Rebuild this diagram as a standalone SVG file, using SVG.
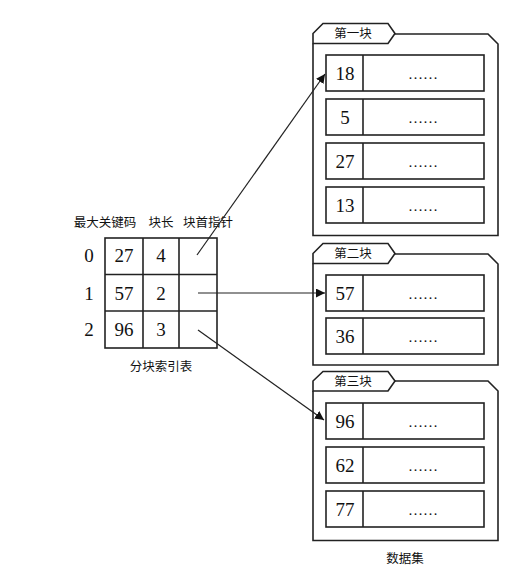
<svg xmlns="http://www.w3.org/2000/svg" width="510" height="577" viewBox="0 0 510 577">
<defs>
<style>
.ln{fill:none;stroke:#222;stroke-width:1.6}
.cell{fill:#fff;stroke:#222;stroke-width:1.6}
.num{font-family:"Liberation Serif","Times New Roman",serif;font-size:19px;fill:#111;text-anchor:middle}
.dots{font-family:"Liberation Serif","Times New Roman",serif;font-size:15px;fill:#111;text-anchor:middle}
.cn{font-family:"Noto Sans CJK SC","Noto Sans",sans-serif;font-size:12.5px;fill:#111;text-anchor:middle}
.con{fill:none;stroke:#222;stroke-width:1.2}
</style>
<marker id="ah" viewBox="0 0 10 10" refX="10" refY="5" markerWidth="9" markerHeight="9" markerUnits="userSpaceOnUse" orient="auto">
<path d="M0,0 L10,5 L0,10 z" fill="#111"/>
</marker>
</defs>
<rect width="510" height="577" fill="#fff"/>

<g id="index-table">
<text class="cn" x="105" y="227">最大关键码</text>
<text class="cn" x="161" y="227">块长</text>
<text class="cn" x="208" y="227">块首指针</text>
<rect class="cell" x="105" y="238" width="112" height="110"/>
<line class="ln" x1="143" y1="238" x2="143" y2="348"/>
<line class="ln" x1="179" y1="238" x2="179" y2="348"/>
<line class="ln" x1="105" y1="274.5" x2="217" y2="274.5"/>
<line class="ln" x1="105" y1="311" x2="217" y2="311"/>
<text class="num" x="89" y="262">0</text>
<text class="num" x="89" y="300">1</text>
<text class="num" x="89" y="336">2</text>
<text class="num" x="124" y="262">27</text>
<text class="num" x="161" y="262">4</text>
<text class="num" x="124" y="300">57</text>
<text class="num" x="161" y="300">2</text>
<text class="num" x="124" y="336">96</text>
<text class="num" x="161" y="336">3</text>
<text class="cn" x="161" y="371">分块索引表</text>
</g>

<g id="block1">
<path class="ln" d="M313,43.5 V235.5 H498 V44 L488,34 H395"/>
<path class="ln" d="M313,43.5 V33.5 L323,23.5 H388 L395,33.5 L388,43.5 Z"/>
<text class="cn" x="353" y="38">第一块</text>
<rect class="cell" x="326" y="55" width="158" height="36"/><line class="ln" x1="363" y1="55" x2="363" y2="91"/>
<text class="num" x="345" y="79.5">18</text><text class="dots" x="423" y="79">……</text>
<rect class="cell" x="326" y="99" width="158" height="36"/><line class="ln" x1="363" y1="99" x2="363" y2="135"/>
<text class="num" x="345" y="123.5">5</text><text class="dots" x="423" y="123">……</text>
<rect class="cell" x="326" y="143" width="158" height="36"/><line class="ln" x1="363" y1="143" x2="363" y2="179"/>
<text class="num" x="345" y="167.5">27</text><text class="dots" x="423" y="167">……</text>
<rect class="cell" x="326" y="187" width="158" height="36"/><line class="ln" x1="363" y1="187" x2="363" y2="223"/>
<text class="num" x="345" y="211.5">13</text><text class="dots" x="423" y="211">……</text>
</g>

<g id="block2">
<path class="ln" d="M313,263.5 V365 H498 V264 L488,254 H395"/>
<path class="ln" d="M313,263.5 V253.5 L323,243.5 H388 L395,253.5 L388,263.5 Z"/>
<text class="cn" x="353" y="258">第二块</text>
<rect class="cell" x="326" y="275" width="158" height="36"/><line class="ln" x1="363" y1="275" x2="363" y2="311"/>
<text class="num" x="345" y="299.5">57</text><text class="dots" x="423" y="299">……</text>
<rect class="cell" x="326" y="318" width="158" height="36"/><line class="ln" x1="363" y1="318" x2="363" y2="354"/>
<text class="num" x="345" y="342.5">36</text><text class="dots" x="423" y="342">……</text>
</g>

<g id="block3">
<path class="ln" d="M313,391 V540.5 H498 V391 L488,381 H395"/>
<path class="ln" d="M313,391 V381 L323,371.5 H388 L395,381 L388,391 Z"/>
<text class="cn" x="353" y="386">第三块</text>
<rect class="cell" x="326" y="403" width="158" height="36"/><line class="ln" x1="363" y1="403" x2="363" y2="439"/>
<text class="num" x="345" y="427.5">96</text><text class="dots" x="423" y="427">……</text>
<rect class="cell" x="326" y="447" width="158" height="36"/><line class="ln" x1="363" y1="447" x2="363" y2="483"/>
<text class="num" x="345" y="471.5">62</text><text class="dots" x="423" y="471">……</text>
<rect class="cell" x="326" y="491" width="158" height="36"/><line class="ln" x1="363" y1="491" x2="363" y2="527"/>
<text class="num" x="345" y="515.5">77</text><text class="dots" x="423" y="515">……</text>
<text class="cn" x="405" y="563">数据集</text>
</g>

<g id="connectors">
<line class="con" x1="197" y1="255" x2="325" y2="74" marker-end="url(#ah)"/>
<line class="con" x1="198" y1="293" x2="325" y2="293" marker-end="url(#ah)"/>
<line class="con" x1="198" y1="330" x2="324" y2="420" marker-end="url(#ah)"/>
</g>
</svg>
